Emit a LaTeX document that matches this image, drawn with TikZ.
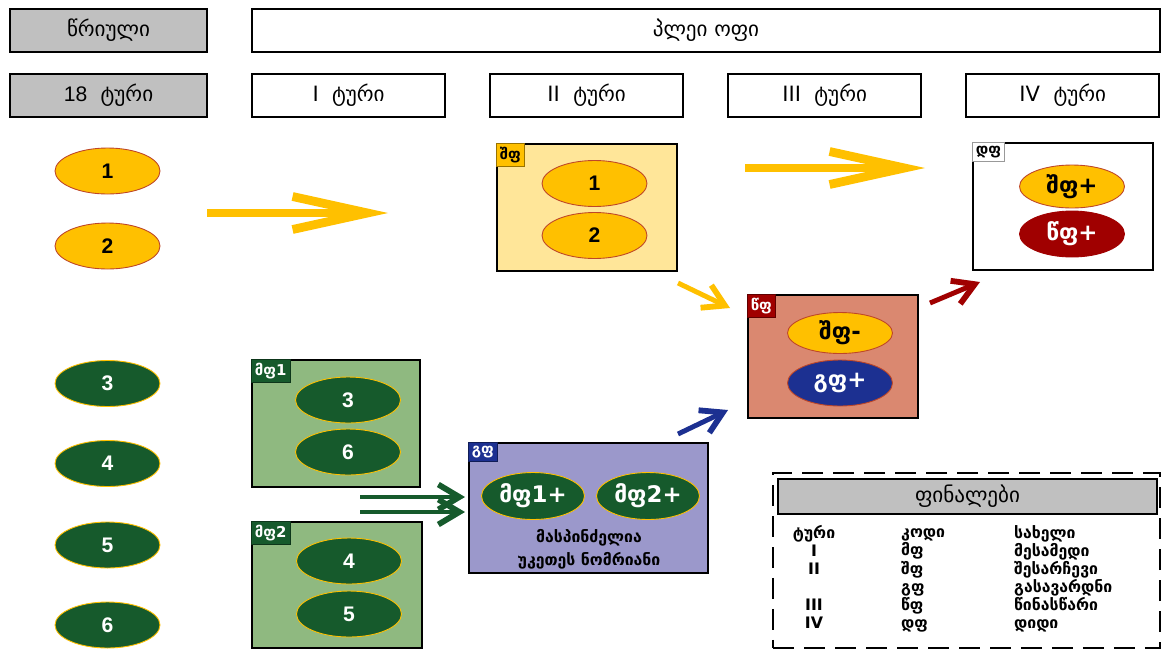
\documentclass[tikz,border=0pt]{standalone}
\usepackage{fontspec}
\setmainfont{DejaVu Sans}
\newfontfamily\arialfont{Liberation Sans}
\usetikzlibrary{shapes, arrows.meta, positioning}
\setlength{\lineskiplimit}{-100pt}

\definecolor{boxgray}{RGB}{192,192,192}
\definecolor{tgold}{RGB}{255,192,0}
\definecolor{paleyellow}{RGB}{255,230,153}
\definecolor{tgreen}{RGB}{22,90,44}
\definecolor{sage}{RGB}{143,185,128}
\definecolor{salmon}{RGB}{218,136,112}
\definecolor{tred}{RGB}{160,0,0}
\definecolor{tblue}{RGB}{28,48,145}
\definecolor{lavender}{RGB}{155,152,203}
\definecolor{rimred}{RGB}{190,70,40}

\begin{document}
\begin{tikzpicture}[x=0.02cm, y=-0.02cm,
	node distance=0.4cm and 0.86cm,
	hdr/.style={rectangle, draw, line width=1.2pt, minimum width=3.86cm,
		minimum height=0.86cm, font=\fontsize{12}{14}\selectfont},
	grayhdr/.style={hdr, fill=boxgray, minimum width=3.94cm},
	grp/.style={rectangle, draw, line width=1.2pt},
	tag/.style={rectangle, draw=#1!60!black, fill=#1, line width=0.4pt, anchor=north west,
		inner sep=2pt, font=\fontsize{8.5}{10}\selectfont\bfseries},
	team/.style={ellipse, inner sep=0pt, minimum width=2.1cm, minimum height=0.92cm, line width=0.5pt},
	yteam/.style={team, fill=tgold, draw=rimred, font=\arialfont\fontsize{12}{14}\selectfont\bfseries},
	gteam/.style={team, fill=tgreen, draw=tgold, text=white, font=\arialfont\fontsize{12}{14}\selectfont\bfseries},
	code/.style={team, font=\fontsize{13}{15}\selectfont\bfseries},
	bigarr/.style={draw=tgold, line width=4pt, -{Straight Barb[length=1.5cm, width=0.66cm, line width=1pt 1]}},
	smallarr/.style={line width=2.8pt, -{Straight Barb[length=0.42cm, width=0.5cm, line width=0.5pt 1]}},
	legtext/.style={font=\fontsize{9}{10.3}\selectfont\bfseries},
	]
	\useasboundingbox (0,0) rectangle (1163,650);
	
	\node [grayhdr] (hround) at (108.5,30.5) {წრიული};
	\node [hdr, right=of hround, minimum width=18.16cm] (hplay) {პლეი ოფი};
	\node [grayhdr, below=of hround] (h18) {{\arialfont 18}~~ტური};
	\node [hdr, right=of h18] (h1) {I~~ტური};
	\node [hdr, right=of h1] (h2) {II~~ტური};
	\node [hdr, right=of h2] (h3) {III~~ტური};
	\node [hdr, right=of h3] (h4) {IV~~ტური};
	
	\node [yteam] (t1) at (107.5,171) {1};
	\node [yteam] (t2) at (107.5,246) {2};
	\node [gteam] (t3) at (107.5,383.5) {3};
	\node [gteam] (t4) at (107.5,463.5) {4};
	\node [gteam] (t5) at (107.5,545) {5};
	\node [gteam] (t6) at (107.5,625) {6};
	
	\node [grp, fill=paleyellow, minimum width=3.6cm, minimum height=2.54cm] (shf) at (587,207.5) {};
	\node [tag=tgold] (shftag) at (shf.north west) {შფ};
	\node [yteam] (shf1) at (594.5,183.5) {1};
	\node [yteam] (shf2) at (594.5,235.5) {2};
	
	\node [grp, fill=white, minimum width=3.6cm, minimum height=2.54cm] (df) at (1063,206.5) {};
	\node [tag=white] (dftag) at (df.north west) {დფ};
	\node [code, fill=tgold, draw=rimred, minimum height=0.86cm] (dfa) at (1072,186.5) {შფ+};
	\node [code, fill=tred, draw=tred, text=white] (dfb) at (1072,234) {წფ+};
	
	\node [grp, fill=salmon, minimum width=3.4cm, minimum height=2.46cm] (wf) at (833,356.5) {};
	\node [tag=tred, text=white] (wftag) at (wf.north west) {წფ};
	\node [code, fill=tgold, draw=rimred, minimum height=0.82cm] (wfa) at (840,333) {შფ-};
	\node [code, fill=tblue, draw=rimred, text=white] (wfb) at (840,383) {გფ+};
	
	\node [grp, fill=sage, minimum width=3.36cm, minimum height=2.54cm] (mf1) at (336,423.5) {};
	\node [tag=tgreen, text=white] (mf1tag) at (mf1.north west) {მფ1};
	\node [gteam] (mf1a) at (348,400) {3};
	\node [gteam] (mf1b) at (348,452) {6};
	
	\node [grp, fill=sage, minimum width=3.4cm, minimum height=2.52cm] (mf2) at (337,585) {};
	\node [tag=tgreen, text=white] (mf2tag) at (mf2.north west) {მფ2};
	\node [gteam] (mf2a) at (349,561) {4};
	\node [gteam] (mf2b) at (349,614) {5};
	
	\node [grp, fill=lavender, minimum width=4.78cm, minimum height=2.6cm] (gf) at (588.5,508) {};
	\node [tag=tblue, text=white] (gftag) at (gf.north west) {გფ};
	\node [code, fill=tgreen, draw=tgold, text=white, minimum width=2.06cm, minimum height=0.94cm] (gfa) at (533,496) {მფ1+};
	\node [code, fill=tgreen, draw=tgold, text=white, minimum width=2.06cm, minimum height=0.94cm] (gfb) at (648,496) {მფ2+};
	\node [align=center, font=\fontsize{9}{13}\selectfont\bfseries] (gfnote) at (589,549) {მასპინძელია\\უკეთეს ნომრიანი};
	
	\coordinate (ya) at (207,213);
	\coordinate (yb) at (388,213);
	\coordinate (yc) at (745,168);
	\coordinate (yd) at (925,168);
	\coordinate (ye) at (678,283);
	\coordinate (yf) at (730,308);
	\coordinate (ba) at (678,434);
	\coordinate (bb) at (728,410);
	\coordinate (ra) at (930,303);
	\coordinate (rb) at (980,282);
	\coordinate (ga) at (360,497);
	\coordinate (gb) at (465,497);
	\coordinate (gc) at (360,512);
	\coordinate (gd) at (465,512);
	\draw [bigarr] (ya) -- (yb);
	\draw [bigarr] (yc) -- (yd);
	\draw [smallarr, draw=tgold] (ye) -- (yf);
	\draw [smallarr, draw=tblue] (ba) -- (bb);
	\draw [smallarr, draw=tred] (ra) -- (rb);
	\draw [smallarr, draw=tgreen] (ga) -- (gb);
	\draw [smallarr, draw=tgreen] (gc) -- (gd);
	
	\node [draw, dash pattern=on 0.42cm off 0.2cm, line width=1.2pt, minimum width=7.74cm, minimum height=3.5cm] (legend) at (966.5,560.5) {};
	\node [draw, fill=boxgray, line width=0.8pt, minimum width=7.58cm, minimum height=0.7cm,
		font=\fontsize{12}{14}\selectfont] (leghead) at (967.5,496.5) {ფინალები};
	\node [legtext, anchor=north, align=center] (legtour) at (814,519) {\strut ტური\\\strut I\\\strut II\\\strut\\\strut III\\\strut IV};
	\node [legtext, anchor=north west, align=left] (legcode) at (895,519) {\strut კოდი\\\strut მფ\\\strut შფ\\\strut გფ\\\strut წფ\\\strut დფ};
	\node [legtext, anchor=north west, align=left] (legname) at (1008,519) {\strut სახელი\\\strut მესამედი\\\strut შესარჩევი\\\strut გასავარდნი\\\strut წინასწარი\\\strut დიდი};
\end{tikzpicture}
\end{document}
